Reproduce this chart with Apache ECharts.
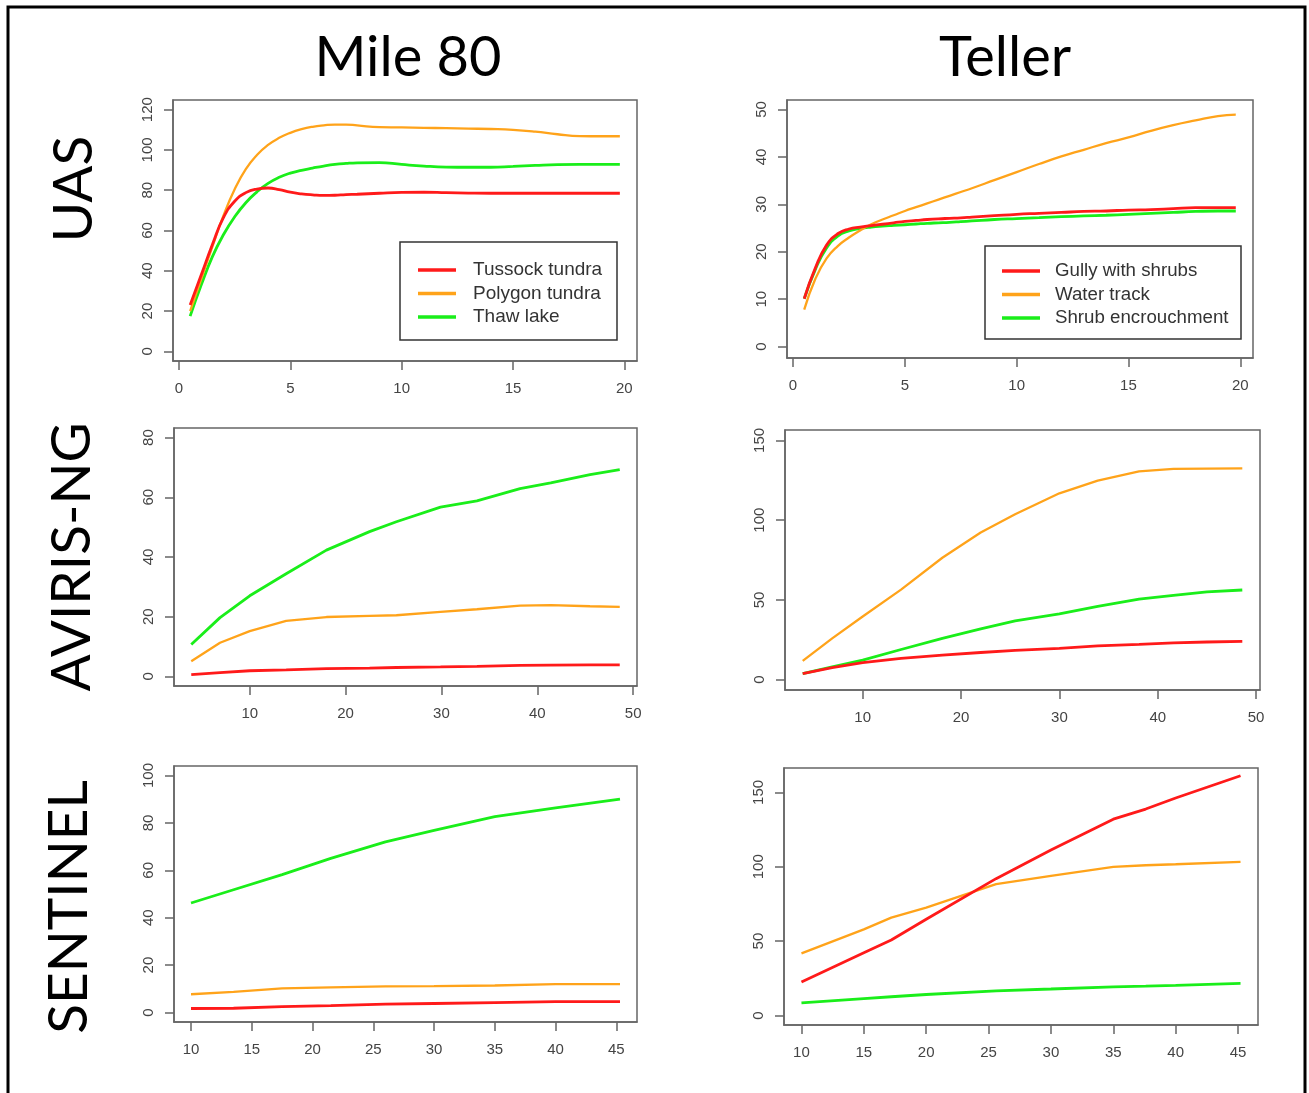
<!DOCTYPE html>
<html>
<head>
<meta charset="utf-8">
<script src="https://cdn.jsdelivr.net/npm/echarts@6/dist/echarts.min.js"></script>
<style>html,body{margin:0;padding:0;background:#fff;}#c{width:1309px;height:1093px;}</style>
</head>
<body>
<div id="c"></div>
<script>
// ---- data ----
const colTitles = ['Mile 80', 'Teller'];
const rowTitles = ['UAS', 'AVIRIS-NG', 'SENTINEL'];
const mileNames = ['Tussock tundra', 'Polygon tundra', 'Thaw lake'];
const tellerNames = ['Gully with shrubs', 'Water track', 'Shrub encrouchment'];

const uasX = [0.5, 1, 1.5, 2, 2.5, 3, 3.5, 4, 4.5, 5, 5.5, 6, 6.5, 7, 7.5, 8, 9, 10, 11, 12, 13, 14, 15, 16, 17, 18, 19, 19.8];
const mileUasTussock = [23, 38, 53, 66.5, 74.5, 78.8, 80.6, 81.1, 80.3, 79, 78.2, 77.7, 77.4, 77.5, 77.8, 78, 78.5, 78.9, 79, 78.8, 78.6, 78.5, 78.5, 78.5, 78.5, 78.5, 78.5, 78.5];
const mileUasPolygon = [20, 36, 52, 67.5, 80.5, 90.5, 97.5, 102.5, 106, 108.5, 110.3, 111.5, 112.2, 112.6, 112.6, 112.2, 111.3, 111.2, 111, 110.8, 110.6, 110.4, 110, 109.1, 107.8, 106.9, 106.8, 106.8];
const mileUasThaw = [17.5, 33, 47, 58, 66.8, 73.8, 79.2, 83.4, 86.4, 88.5, 89.9, 91, 92, 92.8, 93.3, 93.6, 93.7, 92.8, 92, 91.5, 91.4, 91.4, 91.8, 92.3, 92.7, 92.8, 92.8, 92.8];
const tellerUasGully = [10.1, 16.6, 21.4, 23.8, 24.8, 25.2, 25.5, 25.8, 26.1, 26.4, 26.6, 26.8, 26.95, 27.05, 27.15, 27.3, 27.6, 27.9, 28.1, 28.3, 28.5, 28.6, 28.8, 28.9, 29.1, 29.3, 29.3, 29.3];
const tellerUasWater = [7.8, 14.3, 18.6, 21.2, 23, 24.5, 25.8, 26.8, 27.7, 28.6, 29.4, 30.2, 31, 31.8, 32.6, 33.4, 35.1, 36.8, 38.5, 40.1, 41.5, 42.9, 44.1, 45.5, 46.7, 47.7, 48.6, 48.9];
const tellerUasShrub = [10.1, 16.3, 20.8, 23.3, 24.4, 24.9, 25.2, 25.4, 25.55, 25.7, 25.85, 26, 26.1, 26.2, 26.35, 26.5, 26.8, 27, 27.2, 27.4, 27.55, 27.7, 27.9, 28.1, 28.3, 28.5, 28.6, 28.6];

const avMileX = [3.9, 6.9, 10, 13.8, 18, 22.5, 25.3, 29.9, 33.7, 38.2, 41.4, 45.5, 48.6];
const avMileTussock = [0.6, 1.3, 1.9, 2.2, 2.6, 2.8, 3.0, 3.2, 3.4, 3.7, 3.8, 3.9, 3.9];
const avMilePolygon = [5.1, 11.3, 15.2, 18.6, 19.9, 20.3, 20.5, 21.6, 22.5, 23.7, 23.9, 23.5, 23.3];
const avMileThaw = [10.7, 19.7, 27, 34.4, 42.3, 48.5, 51.8, 56.7, 58.8, 62.9, 64.8, 67.6, 69.3];

const avTelX = [3.9, 6.9, 10, 13.9, 18.1, 22, 25.5, 30, 33.9, 38.1, 41.6, 45, 48.6];
const avTelGully = [3.8, 7.5, 10.7, 13.3, 15.4, 17, 18.3, 19.6, 21.2, 22.1, 23.1, 23.6, 24];
const avTelWater = [11.8, 25.9, 39.6, 56.4, 76.4, 92.2, 103.7, 116.8, 124.8, 130.6, 132.1, 132.3, 132.5];
const avTelShrub = [3.8, 8, 12.2, 18.9, 25.9, 31.8, 36.8, 41.2, 45.9, 50.5, 52.8, 55, 56.2];

const senMileX = [10, 13.5, 17.5, 21.5, 26, 30, 35, 40, 45.3];
const senMileTussock = [1.7, 1.8, 2.5, 2.9, 3.5, 3.8, 4.2, 4.6, 4.6];
const senMilePolygon = [7.7, 8.7, 10.2, 10.6, 11, 11.1, 11.4, 12, 12];
const senMileThaw = [46.2, 51.8, 58.2, 65, 72, 76.8, 82.6, 86.3, 90];

const senTelX = [10, 15, 17.2, 20, 25.6, 30, 35, 37.6, 40, 45.2];
const senTelGully = [22.5, 42.2, 50.8, 64.7, 92, 111.2, 132, 138.8, 146.2, 161.2];
const senTelWater = [41.8, 57.9, 65.8, 72.5, 88.3, 93.9, 99.9, 101, 101.7, 103.3];
const senTelShrub = [8.5, 11.4, 12.6, 14.1, 16.6, 17.8, 19.3, 19.7, 20.2, 21.6];

const xTicksUas = [0, 5, 10, 15, 20];
const xTicksAv = [10, 20, 30, 40, 50];
const xTicksSen = [10, 15, 20, 25, 30, 35, 40, 45];
const yTicksMileUas = [0, 20, 40, 60, 80, 100, 120];
const yTicksTelUas = [0, 10, 20, 30, 40, 50];
const yTicksMileAv = [0, 20, 40, 60, 80];
const yTicksTelAv = [0, 50, 100, 150];
const yTicksMileSen = [0, 20, 40, 60, 80, 100];
const yTicksTelSen = [0, 50, 100, 150];

// ---- layout ----
const colors = ['#ff1a1a', '#ffa31a', '#1aee1a'];
const widths = [2.8, 2.3, 2.8];
const panels = [
  {grid:{left:173, top:100, width:464, height:261}, x:[-0.27,20.57], y:[-4.8,124.8], xt:xTicksUas, yt:yTicksMileUas, xs:uasX, ys:[mileUasTussock, mileUasPolygon, mileUasThaw], names:mileNames, smooth:true},
  {grid:{left:787, top:100, width:466, height:258}, x:[-0.27,20.57], y:[-2.4,52], xt:xTicksUas, yt:yTicksTelUas, xs:uasX, ys:[tellerUasGully, tellerUasWater, tellerUasShrub], names:tellerNames, smooth:true},
  {grid:{left:174, top:428, width:463, height:258}, x:[2.1,50.4], y:[-3.2,83.2], xt:xTicksAv, yt:yTicksMileAv, xs:avMileX, ys:[avMileTussock, avMilePolygon, avMileThaw], names:null, smooth:false},
  {grid:{left:785, top:430, width:475, height:260}, x:[2.1,50.4], y:[-6.5,156.5], xt:xTicksAv, yt:yTicksTelAv, xs:avTelX, ys:[avTelGully, avTelWater, avTelShrub], names:null, smooth:false},
  {grid:{left:174, top:766, width:463, height:256}, x:[8.6,46.7], y:[-4,104], xt:xTicksSen, yt:yTicksMileSen, xs:senMileX, ys:[senMileTussock, senMilePolygon, senMileThaw], names:null, smooth:false},
  {grid:{left:784, top:768, width:474, height:257}, x:[8.6,46.6], y:[-6.4,166.4], xt:xTicksSen, yt:yTicksTelSen, xs:senTelX, ys:[senTelGully, senTelWater, senTelShrub], names:null, smooth:false}
];

const axisCol = '#666';
const labelStyle = {fontSize:15, color:'#444', fontFamily:'Liberation Sans, Arial, sans-serif'};
const grids = [], xAxes = [], yAxes = [], series = [];
panels.forEach((p, i) => {
  grids.push(Object.assign({show:true, borderColor:axisCol, borderWidth:1.5, backgroundColor:'transparent'}, p.grid));
  xAxes.push({gridIndex:i, type:'value', min:p.x[0], max:p.x[1],
    axisLine:{show:true, onZero:false, lineStyle:{color:axisCol, width:1.5}},
    axisTick:{show:true, length:9, lineStyle:{color:axisCol, width:1.5}, customValues:p.xt},
    axisLabel:Object.assign({customValues:p.xt, margin:20}, labelStyle),
    splitLine:{show:false}});
  yAxes.push({gridIndex:i, type:'value', min:p.y[0], max:p.y[1],
    axisLine:{show:true, onZero:false, lineStyle:{color:axisCol, width:1.5}},
    axisTick:{show:true, length:9, lineStyle:{color:axisCol, width:1.5}, customValues:p.yt},
    axisLabel:Object.assign({customValues:p.yt, rotate:90, margin:18}, labelStyle),
    splitLine:{show:false}});
  p.ys.forEach((vals, k) => {
    const nm = p.names ? p.names[k] : ('p' + i + '_' + k);
    series.push({type:'line', name:nm, xAxisIndex:i, yAxisIndex:i,
      data:p.xs.map((x, j) => [x, vals[j]]),
      symbol:'none', smooth:p.smooth ? 0.5 : false,
      color:colors[k], lineStyle:{color:colors[k], width:widths[k]}, z:5 - k, silent:true, animation:false});
  });
});

const legendText1 = {fontSize:19, color:'#333', fontFamily:'Liberation Sans, Arial, sans-serif', lineHeight:20, padding:[0,0,0,12]};
const legendText2 = {fontSize:18.7, color:'#333', fontFamily:'Liberation Sans, Arial, sans-serif', lineHeight:20, padding:[0,0,0,10]};
const legends = [
  {data:mileNames, orient:'vertical', left:418, top:260, itemWidth:38, itemHeight:3.5, itemGap:3.5, icon:'rect', padding:0, textStyle:legendText1, selectedMode:false},
  {data:tellerNames, orient:'vertical', left:1002, top:261, itemWidth:38, itemHeight:3.5, itemGap:3.5, icon:'rect', padding:0, textStyle:legendText2, selectedMode:false}
];

const titleFont = 'Lato, "Open Sans", sans-serif';
const graphics = [
  {type:'rect', shape:{x:8, y:7, width:1297, height:1100}, style:{fill:'none', stroke:'#000', lineWidth:3}, silent:true},
  {type:'rect', shape:{x:400, y:242, width:217, height:98}, style:{fill:'#fff', stroke:'#333', lineWidth:1.5}, z:1},
  {type:'rect', shape:{x:985, y:246, width:256, height:93}, style:{fill:'#fff', stroke:'#333', lineWidth:1.5}, z:1},
  {type:'text', x:408, y:58, style:{text:colTitles[0], font:'56px ' + titleFont, fill:'#000', textAlign:'center', textVerticalAlign:'middle'}},
  {type:'text', x:1005, y:58, style:{text:colTitles[1], font:'56px ' + titleFont, fill:'#000', textAlign:'center', textVerticalAlign:'middle'}},
  {type:'text', x:74, y:189, rotation:Math.PI/2, style:{text:rowTitles[0], font:'55px ' + titleFont, fill:'#000', textAlign:'center', textVerticalAlign:'middle'}},
  {type:'text', x:72, y:557, rotation:Math.PI/2, style:{text:rowTitles[1], font:'55px ' + titleFont, fill:'#000', textAlign:'center', textVerticalAlign:'middle'}},
  {type:'text', x:69, y:907, rotation:Math.PI/2, style:{text:rowTitles[2], font:'55px ' + titleFont, fill:'#000', textAlign:'center', textVerticalAlign:'middle'}}
];

const chart = echarts.init(document.getElementById('c'), null, {renderer:'canvas'});
chart.setOption({
  backgroundColor:'#fff',
  animation:false,
  grid:grids, xAxis:xAxes, yAxis:yAxes, series:series,
  legend:legends,
  graphic:{elements:graphics}
});
</script>
</body>
</html>
